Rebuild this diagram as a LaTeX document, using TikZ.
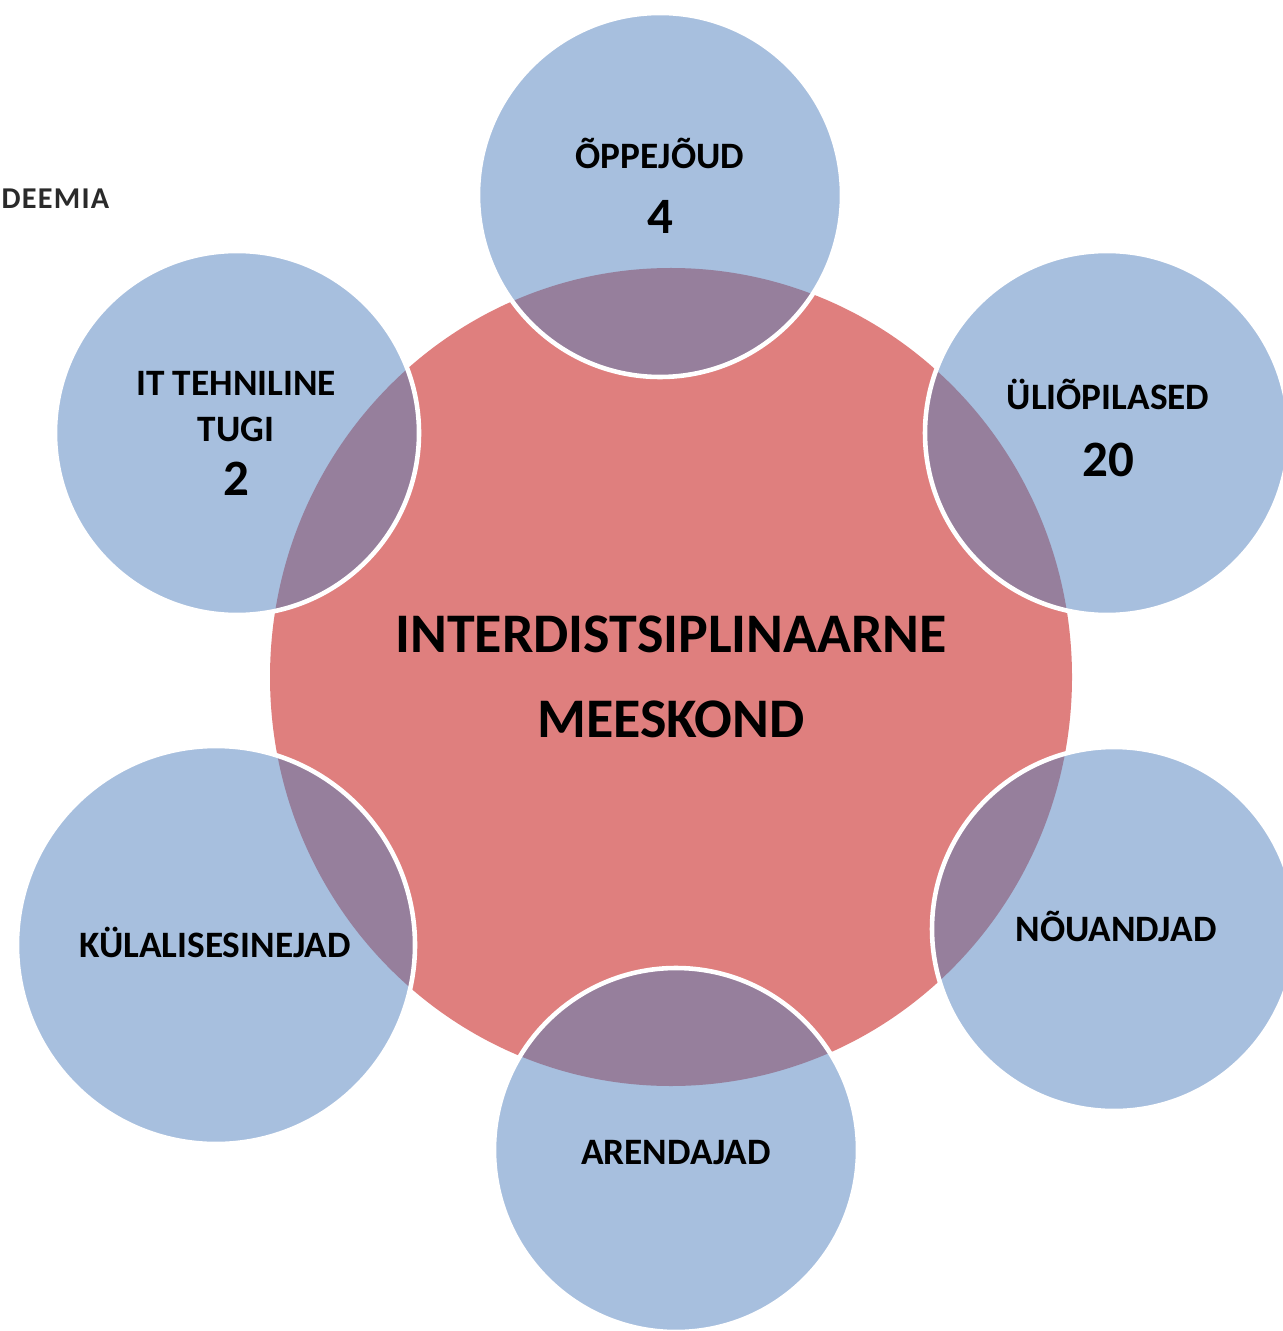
\documentclass[tikz,border=0pt]{standalone}
\usepackage{fontspec}
\setmainfont{Carlito}
\definecolor{bubbleblue}{HTML}{A7BFDE}
\definecolor{hubred}{HTML}{DF7F7E}
\definecolor{mixpurple}{HTML}{967F9C}
\definecolor{logogray}{HTML}{2A2A2A}
\begin{document}
\begin{tikzpicture}[x=0.01cm,y=-0.01cm,
    lbl/.style={anchor=base, inner sep=0pt, font=\fontsize{10.6pt}{12pt}\bfseries},
    num/.style={anchor=base, inner sep=0pt, font=\fontsize{14.5pt}{16pt}\bfseries},
    hubtext/.style={anchor=base, inner sep=0pt, font=\fontsize{15.9pt}{19pt}\bfseries}]

        \clip (0,0) rectangle (1283,1331);

        % outer circles: centre and radius
        \coordinate (c1) at (660,195);
        \coordinate (c2) at (1107,433);
        \coordinate (c3) at (1114,929);
        \coordinate (c4) at (676,1150);
        \coordinate (c5) at (216,945);
        \coordinate (c6) at (237,433);
        \coordinate (hub) at (671,677);

        \fill[hubred] (hub) ellipse [x radius=401, y radius=409];

        \begin{scope}[every path/.style={fill=bubbleblue}]
          \path (c1) circle [radius=182];
          \path (c2) circle [radius=182];
          \path (c3) circle [radius=182];
          \path (c4) circle [radius=182];
          \path (c5) circle [radius=199];
          \path (c6) circle [radius=182];
        \end{scope}

        % overlap with the centre
        \begin{scope}
          \clip (hub) ellipse [x radius=401, y radius=409];
          \begin{scope}[every path/.style={fill=mixpurple}]
            \path (c1) circle [radius=182];
            \path (c2) circle [radius=182];
            \path (c3) circle [radius=182];
            \path (c4) circle [radius=182];
            \path (c5) circle [radius=199];
            \path (c6) circle [radius=182];
          \end{scope}
        \end{scope}

        \begin{scope}[every path/.style={draw=white, line width=1.3pt}]
          \path (c1) circle [radius=182];
          \path (c2) circle [radius=182];
          \path (c3) circle [radius=182];
          \path (c4) circle [radius=182];
          \path (c5) circle [radius=199];
          \path (c6) circle [radius=182];
        \end{scope}

        \node[lbl] (oppejoud) at (660,169) {ÕPPEJÕUD};
        \node[num] (n1) at (660,234) {4};
        \node[lbl] (tudengid) at (1108,410) {ÜLIÕPILASED};
        \node[num] (n2) at (1108,476) {20};
        \node[lbl] (noustajad) at (1116,941) {NÕUANDJAD};
        \node[lbl] (arendajad) at (676,1164) {ARENDAJAD};
        \node[lbl] (kylalised) at (215,957) {KÜLALISESINEJAD};
        \node[lbl] (ittugi) at (236,396) {IT TEHNILINE};
        \node[lbl] (tugi) at (236,442) {TUGI};
        \node[num] (n6) at (236,495) {2};

        \node[hubtext] (meeskond1) at (671,652) {INTERDISTSIPLINAARNE};
        \node[hubtext] (meeskond2) at (671,737) {MEESKOND};

        \node[anchor=base west, inner sep=0pt, text=logogray,
              font=\fontsize{8.6pt}{9pt}\bfseries\addfontfeature{LetterSpace=4}] (logo) at (1,209) {DEEMIA};

\end{tikzpicture}
\end{document}
